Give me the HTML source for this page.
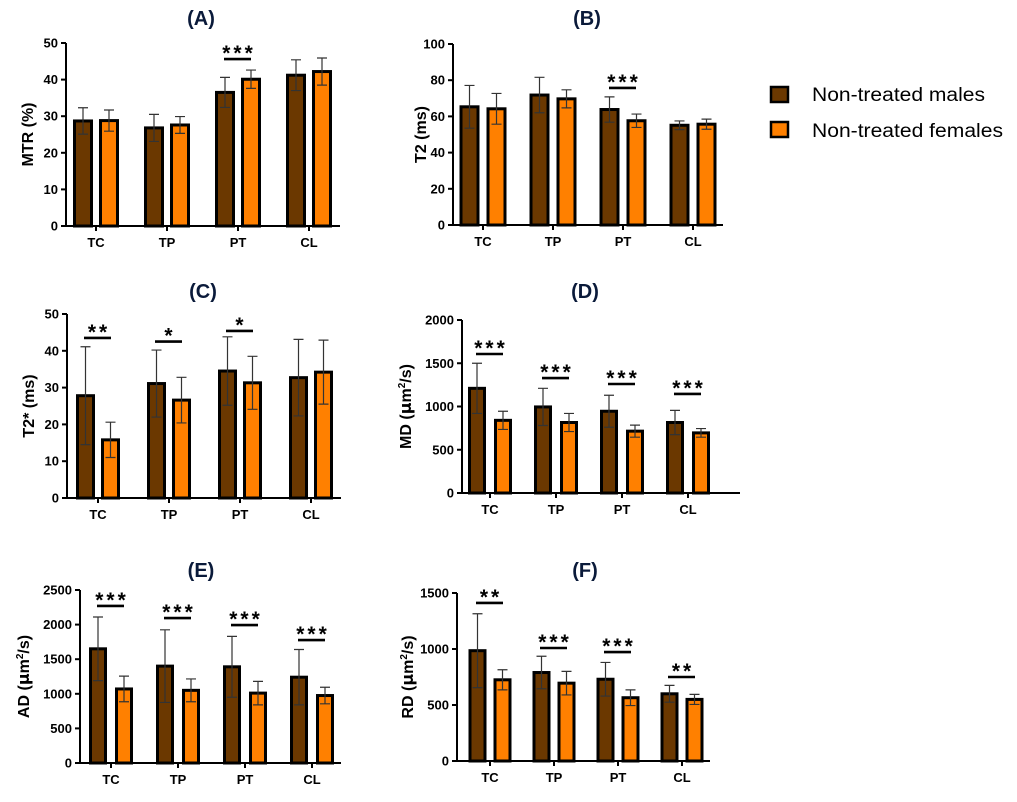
<!DOCTYPE html>
<html><head><meta charset="utf-8">
<style>
html,body{margin:0;padding:0;background:#fff;}
svg{display:block;font-family:"Liberation Sans",Arial,sans-serif;}
</style></head>
<body>
<svg id="fig" width="1017" height="802" viewBox="0 0 1017 802">
  <g id="legend">
    <rect x="771" y="87" width="17" height="15" fill="#6b3800" stroke="#000" stroke-width="2.5"/>
    <text x="812" y="101" font-size="19" textLength="173" lengthAdjust="spacingAndGlyphs" fill="#000">Non-treated males</text>
    <rect x="771" y="122" width="17" height="15" fill="#ff8000" stroke="#000" stroke-width="2.5"/>
    <text x="812" y="137" font-size="19" textLength="191" lengthAdjust="spacingAndGlyphs" fill="#000">Non-treated females</text>
  </g>
</svg>
<script>
const categories = ["TC","TP","PT","CL"];

const maleA = [28.7,26.8,36.5,41.2];
const maleErrA = [3.6,3.7,4.1,4.2];
const femaleA = [28.8,27.6,40.1,42.2];
const femaleErrA = [2.9,2.3,2.5,3.7];
const ticksA = [0,10,20,30,40,50];
const sigA = ["","","***",""];
const sigYA = [0,0,45.6,0];

const maleB = [65.3,71.8,63.8,55.1];
const maleErrB = [11.8,9.8,7.0,2.4];
const femaleB = [64.2,69.7,57.6,55.7];
const femaleErrB = [8.5,5.0,3.7,2.8];
const ticksB = [0,20,40,60,80,100];
const sigB = ["","","***",""];
const sigYB = [0,0,75.7,0];

const maleC = [27.8,31.1,34.5,32.7];
const maleErrC = [13.3,9.1,9.3,10.4];
const femaleC = [15.8,26.6,31.3,34.2];
const femaleErrC = [4.8,6.2,7.2,8.7];
const ticksC = [0,10,20,30,40,50];
const sigC = ["**","*","*",""];
const sigYC = [43.5,42.5,45.4,0];

const maleD = [1210,995,945,815];
const maleErrD = [290,215,185,140];
const femaleD = [840,815,715,695];
const femaleErrD = [105,105,70,50];
const ticksD = [0,500,1000,1500,2000];
const sigD = ["***","***","***","***"];
const sigYD = [1607,1329,1260,1145];

const maleE = [1650,1400,1390,1240];
const maleErrE = [460,525,440,400];
const femaleE = [1070,1050,1010,975];
const femaleErrE = [185,165,170,120];
const ticksE = [0,500,1000,1500,2000,2500];
const sigE = ["***","***","***","***"];
const sigYE = [2269,2095,1994,1777];

const maleF = [985,790,730,600];
const maleErrF = [330,145,150,75];
const femaleF = [725,695,565,550];
const femaleErrF = [90,105,70,45];
const ticksF = [0,500,1000,1500];
const sigF = ["**","***","***","**"];
const sigYF = [1411,1009,973,750];

const NS = "http://www.w3.org/2000/svg";
const svg = document.getElementById("fig");
function mk(tag, attrs, parent){
  const e = document.createElementNS(NS, tag);
  for (const k in attrs) e.setAttribute(k, attrs[k]);
  parent.appendChild(e);
  return e;
}

function panel(cfg){
  const g = mk("g", {}, svg);
  
  
  const ymax = cfg.ticks[cfg.ticks.length-1];
  const y = v => cfg.y0 - (v / ymax) * (cfg.y0 - cfg.yTop);
  const x = i => cfg.c0 + i * cfg.step;

  const t = mk("text", {x: cfg.titleX, y: cfg.titleY, "font-size": 20, "font-weight": "bold", fill: "#0a1a3a", "text-anchor": "middle"}, g);
  t.textContent = "(" + cfg.id + ")";
  
  

  const ya = mk("line", {x1: cfg.ax, y1: cfg.yTop, x2: cfg.ax, y2: cfg.y0 + 1, stroke: "#000", "stroke-width": 2}, g);
  
  
  cfg.ticks.forEach(v => {
    const tk = mk("line", {x1: cfg.ax - 5, y1: y(v), x2: cfg.ax, y2: y(v), stroke: "#000", "stroke-width": 2}, g);
    
    
    const tl = mk("text", {x: cfg.ax - 8, y: y(v) + 4.5, "font-size": 13, "font-weight": "bold", "text-anchor": "end"}, g);
    tl.textContent = v;
    
    
  });
  const yt = mk("text", {transform: "translate(" + cfg.labX + "," + ((cfg.y0 + cfg.yTop)/2) + ") rotate(-90)", "font-size": 16, "font-weight": "bold", "text-anchor": "middle"}, g);
  yt.innerHTML = cfg.label;
  
  

  const xa = mk("line", {x1: cfg.ax - 1, y1: cfg.y0, x2: cfg.xEnd, y2: cfg.y0, stroke: "#000", "stroke-width": 2}, g);
  
  

  categories.forEach((c, i) => {
    const cx = x(i);
    const tk = mk("line", {x1: cx, y1: cfg.y0, x2: cx, y2: cfg.y0 + 5, stroke: "#000", "stroke-width": 2}, g);
    
    
    const tl = mk("text", {x: cx, y: cfg.y0 + 21, "font-size": 13, "font-weight": "bold", "text-anchor": "middle"}, g);
    tl.textContent = c;
    
    

    [[cfg.male, cfg.maleErr, "#6b3800", -cfg.off, "male"], [cfg.female, cfg.femaleErr, "#ff8000", cfg.off, "female"]].forEach(s => {
      const v = s[0][i], e = s[1][i], bc = cx + s[3];
      const b = mk("rect", {x: bc - cfg.bw/2, y: y(v), width: cfg.bw, height: cfg.y0 - y(v), fill: s[2], stroke: "#000", "stroke-width": 3}, g);
      
      
      const eb = mk("path", {d: "M" + bc + "," + y(v+e) + "V" + y(v-e) + "M" + (bc-5) + "," + y(v+e) + "H" + (bc+5) + "M" + (bc-5) + "," + y(v-e) + "H" + (bc+5), stroke: "#333", "stroke-width": 1.2, fill: "none"}, g);
      
      
    });

    if (cfg.sig[i]) {
      const sy = y(cfg.sigY[i]);
      const sl = mk("line", {x1: cx - 14, y1: sy, x2: cx + 13, y2: sy, stroke: "#000", "stroke-width": 2.6}, g);
      
      
      const st = mk("text", {x: cx + 1, y: sy + 1, "font-size": 21, "font-weight": "bold", "text-anchor": "middle", "letter-spacing": "3"}, g);
      st.textContent = cfg.sig[i];
      
      
    }
  });
}

const mu = '(<tspan font-family="DejaVu Sans">μ</tspan>m<tspan dy="-6" font-size="10">2</tspan><tspan dy="6">/s)</tspan>';

panel({id:"A", ax:66, yTop:43, y0:226, xEnd:340, c0:96, step:71, bw:17, off:13, labX:33, titleX:201, titleY:25,
  label:"MTR (%)", ticks:ticksA, male:maleA, maleErr:maleErrA, female:femaleA, femaleErr:femaleErrA, sig:sigA, sigY:sigYA});
panel({id:"B", ax:453, yTop:44, y0:225, xEnd:723, c0:483, step:70, bw:17, off:13.5, labX:426, titleX:587, titleY:25,
  label:"T2 (ms)", ticks:ticksB, male:maleB, maleErr:maleErrB, female:femaleB, femaleErr:femaleErrB, sig:sigB, sigY:sigYB});
panel({id:"C", ax:67, yTop:314, y0:498, xEnd:341, c0:98, step:71, bw:16, off:12.5, labX:34, titleX:203, titleY:298,
  label:"T2* (ms)", ticks:ticksC, male:maleC, maleErr:maleErrC, female:femaleC, femaleErr:femaleErrC, sig:sigC, sigY:sigYC});
panel({id:"D", ax:462, yTop:320, y0:493, xEnd:740, c0:490, step:66, bw:15, off:13, labX:411, titleX:585, titleY:298,
  label:"MD " + mu, ticks:ticksD, male:maleD, maleErr:maleErrD, female:femaleD, femaleErr:femaleErrD, sig:sigD, sigY:sigYD});
panel({id:"E", ax:80, yTop:590, y0:763, xEnd:341, c0:111, step:67, bw:15, off:13, labX:29, titleX:201, titleY:577,
  label:"AD " + mu, ticks:ticksE, male:maleE, maleErr:maleErrE, female:femaleE, femaleErr:femaleErrE, sig:sigE, sigY:sigYE});
panel({id:"F", ax:457, yTop:593, y0:761, xEnd:710, c0:490, step:64, bw:15, off:12.5, labX:413, titleX:585, titleY:577,
  label:"RD " + mu, ticks:ticksF, male:maleF, maleErr:maleErrF, female:femaleF, femaleErr:femaleErrF, sig:sigF, sigY:sigYF});
</script>
</body></html>
